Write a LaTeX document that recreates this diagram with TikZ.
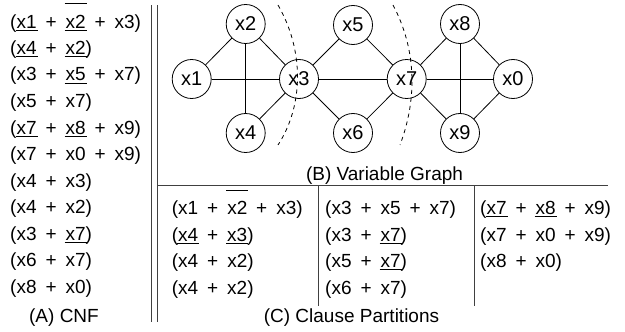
\documentclass[tikz,border=0pt]{standalone}
\usepackage{fontspec}
\setmainfont{Liberation Sans}
\newcommand\ov[1]{\setbox0\hbox{#1}\rlap{\hspace{-0.05em}\raisebox{1.25em}{\rule{\dimexpr\wd0+0.1em\relax}{0.055em}}}\box0}
\newcommand\pl{\hspace{0.47em}+\hspace{0.47em}}
\tikzset{
  var/.style={circle,draw,line width=0.8pt,minimum size=39pt,inner sep=0pt,font=\fontsize{20}{24}\selectfont},
  edge/.style={line width=0.8pt},
  cl/.style={anchor=base west,inner sep=0pt,font=\fontsize{19}{23}\selectfont},
  lab/.style={anchor=base,inner sep=0pt,font=\fontsize{19}{23}\selectfont},
  rulel/.style={line width=1pt,draw=black!75},
  cut/.style={dashed,line width=0.8pt,dash pattern=on 4pt off 4pt}
}
\begin{document}
\begin{tikzpicture}[x=1pt,y=-1pt]
\useasboundingbox (0,0) rectangle (625,332);
% frames
\draw[rulel] (151,5) -- (151,322);
\draw[rulel] (157,5) -- (157,322);
\draw[rulel] (157,185) -- (608,185);
\draw[rulel] (318,185) -- (318,306);
\draw[rulel] (474,185) -- (474,306);
% CNF
\node[cl] (c1) at (10,28) {(x1\pl\ov{x2}\pl x3)};
\node[cl] (c2) at (10,54.5) {(\ov{x4}\pl\ov{x2})};
\node[cl] (c3) at (10,81) {(\ov{x3}\pl\ov{x5}\pl x7)};
\node[cl] (c4) at (10,107.5) {(x5\pl\ov{x7})};
\node[cl] (c5) at (10,134) {(x7\pl x8\pl x9)};
\node[cl] (c6) at (10,160.5) {(\ov{x7}\pl\ov{x0}\pl x9)};
\node[cl] (c7) at (10,187) {(x4\pl x3)};
\node[cl] (c8) at (10,213.5) {(x4\pl x2)};
\node[cl] (c9) at (10,240) {(x3\pl x7)};
\node[cl] (c10) at (10,266.5) {(x6\pl\ov{x7})};
\node[cl] (c11) at (10,293) {(x8\pl x0)};
\node[lab] (la) at (64,322) {(A) CNF};
% graph
\node[var] (x1) at (191.7,79) {x1};
\node[var] (x2) at (245.7,24) {x2};
\node[var] (x3) at (299,79) {x3};
\node[var] (x4) at (245.7,133) {x4};
\node[var] (x5) at (353,25) {x5};
\node[var] (x6) at (353,133) {x6};
\node[var] (x7) at (406.7,79) {x7};
\node[var] (x8) at (460,24) {x8};
\node[var] (x0) at (513,79) {x0};
\node[var] (x9) at (460,133) {x9};
\draw[edge] (x1) -- (x2);
\draw[edge] (x1) -- (x3);
\draw[edge] (x2) -- (x3);
\draw[edge] (x2) -- (x4);
\draw[edge] (x4) -- (x3);
\draw[edge] (x3) -- (x5);
\draw[edge] (x3) -- (x7);
\draw[edge] (x3) -- (x6);
\draw[edge] (x5) -- (x7);
\draw[edge] (x6) -- (x7);
\draw[edge] (x7) -- (x8);
\draw[edge] (x7) -- (x0);
\draw[edge] (x7) -- (x9);
\draw[edge] (x8) -- (x0);
\draw[edge] (x8) -- (x9);
\draw[edge] (x9) -- (x0);
\draw[cut] (278,5) .. controls (304,50) and (304,105) .. (278,145);
\draw[cut] (393,5) .. controls (417,50) and (417,100) .. (400,145);
\node[lab] (lb) at (384.5,180) {(B) Variable Graph};
% partitions
\node[cl] (p11) at (171.7,214.5) {(x1\pl\ov{x2}\pl x3)};
\node[cl] (p12) at (171.7,241) {(x4\pl x3)};
\node[cl] (p13) at (171.7,267.5) {(\ov{x4}\pl\ov{x2})};
\node[cl] (p14) at (171.7,294) {(x4\pl x2)};
\node[cl] (p21) at (325,214.5) {(x3\pl x5\pl x7)};
\node[cl] (p22) at (325,241) {(x3\pl x7)};
\node[cl] (p23) at (325,267.5) {(x5\pl\ov{x7})};
\node[cl] (p24) at (325,294) {(x6\pl\ov{x7})};
\node[cl] (p31) at (480,214.5) {(x7\pl x8\pl x9)};
\node[cl] (p32) at (480,241) {(\ov{x7}\pl\ov{x0}\pl x9)};
\node[cl] (p33) at (480,267.5) {(x8\pl x0)};
\node[lab] (lc) at (351.5,322) {(C) Clause Partitions};
\end{tikzpicture}
\end{document}
